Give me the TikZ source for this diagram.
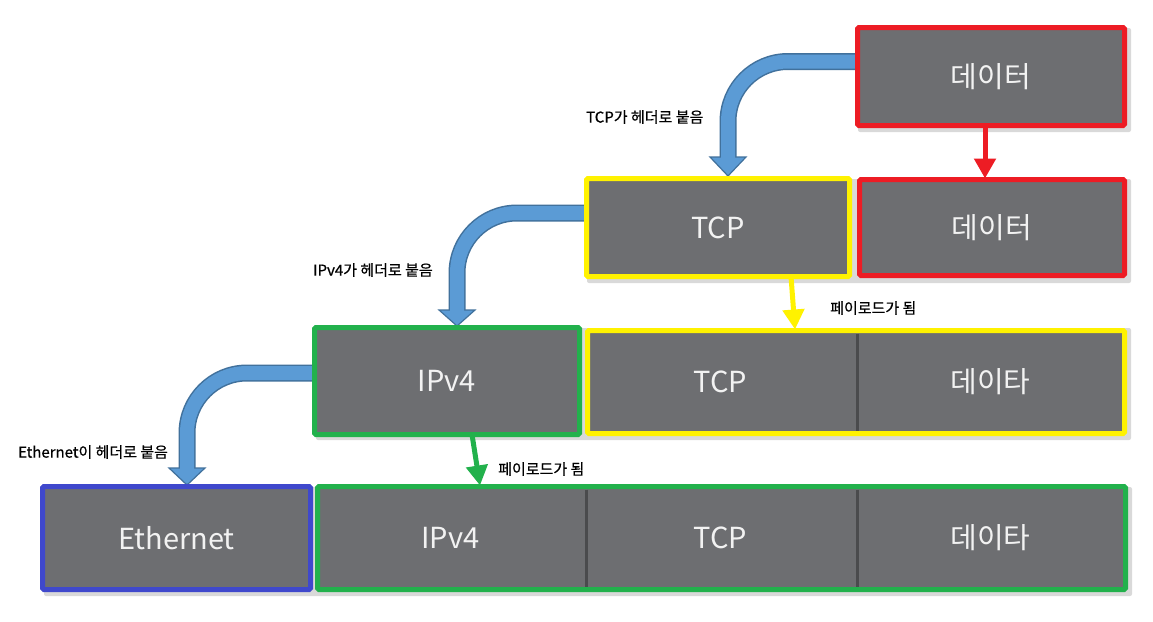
\documentclass[tikz,border=0pt]{standalone}
\usepackage{fontspec}
\setmainfont{Noto Sans CJK KR}
\newfontfamily\krfont{Noto Sans CJK KR}
\newfontfamily\lblfont[FakeBold=0.6]{Noto Sans CJK KR}
\usetikzlibrary{arrows.meta,calc}
\definecolor{boxgray}{HTML}{6D6E71}
\definecolor{boxtext}{HTML}{F2F2F2}
\definecolor{cred}{HTML}{ED1C24}
\definecolor{cyellow}{HTML}{FFF200}
\definecolor{cgreen}{HTML}{22B14C}
\definecolor{cblue}{HTML}{3F48CC}
\definecolor{arrfill}{HTML}{5B9BD5}
\definecolor{arrline}{HTML}{41719C}
\definecolor{divcol}{HTML}{4A4B4D}
\definecolor{shadowcol}{HTML}{D9D9D9}
\tikzset{
  box/.style={draw, line width=5pt, fill=boxgray, text=boxtext, inner sep=0pt, outer sep=0pt,
    anchor=north west, rounded corners=1.5pt, font=\krfont\fontsize{29}{34}\selectfont},
  seg/.style={text=boxtext, inner sep=0pt, font=\krfont\fontsize{29}{34}\selectfont},
  lbl/.style={text=black, inner sep=0pt, anchor=west, font=\lblfont\fontsize{15}{18}\selectfont},
  divider/.style={divcol, line width=3pt},
  shaftout/.style={arrline, line width=17pt, rounded corners=60pt},
  shaftin/.style={arrfill, line width=14pt, rounded corners=60pt},
  headtri/.style={fill=arrfill, draw=arrline, line width=1.2pt, line join=miter},
  payload/.style={line width=5pt, -{Triangle[width=21pt,length=20pt]}},
  shad/.style={fill=shadowcol, rounded corners=2pt}
}
\begin{document}
\begin{tikzpicture}[x=1pt,y=-1pt]
\fill[white] (0,0) rectangle (1153,621);
\useasboundingbox (0,0) rectangle (1153,621);

% coordinates for blue arrows
\coordinate (a1s) at (862,61.5);
\coordinate (a1c) at (728,61.5);
\coordinate (a1b) at (728,157);
\coordinate (a2s) at (590,213);
\coordinate (a2c) at (457,213);
\coordinate (a2b) at (457,310);
\coordinate (a3s) at (318,373);
\coordinate (a3c) at (187,373);
\coordinate (a3b) at (187,468);

% soft shadows behind boxes
\fill[shad] (858,28) rectangle (1131,132);
\fill[shad] (587,179) rectangle (1131,283);
\fill[shad] (316,328) rectangle (1131,440);
\fill[shad] (44,487) rectangle (1132,596);

% blue curved arrows (behind boxes)
\draw[shaftout] (a1s) -- (a1c) -- (a1b);
\draw[headtri] ($(a1b)+(-18,0)$) -- ($(a1b)+(18,0)$) -- ($(a1b)+(0,19)$) -- cycle;
\draw[shaftin] (a1s) -- (a1c) -- ($(a1b)+(0,1.5)$);

\draw[shaftout] (a2s) -- (a2c) -- (a2b);
\draw[headtri] ($(a2b)+(-18,0)$) -- ($(a2b)+(18,0)$) -- ($(a2b)+(0,16)$) -- cycle;
\draw[shaftin] (a2s) -- (a2c) -- ($(a2b)+(0,1.5)$);

\draw[shaftout] (a3s) -- (a3c) -- (a3b);
\draw[headtri] ($(a3b)+(-18,0)$) -- ($(a3b)+(18,0)$) -- ($(a3b)+(0,17)$) -- cycle;
\draw[shaftin] (a3s) -- (a3c) -- ($(a3b)+(0,1.5)$);

% row 1
\node[box, draw=cred, minimum width=267pt, minimum height=98pt] (d1) at (857.5,27.5) {데이터};
% row 2
\node[box, draw=cyellow, minimum width=263pt, minimum height=98pt] (tcp2) at (586.5,178.5) {TCP};
\node[box, draw=cred, minimum width=265pt, minimum height=96pt] (d2) at (859.5,179.5) {데이터};
% row 3
\node[box, draw=cgreen, minimum width=265pt, minimum height=107pt] (ip3) at (314.5,327.5) {IPv4};
\node[box, draw=cyellow, minimum width=537pt, minimum height=103pt] (y3) at (587.5,330.5) {};
\draw[divider] ($(y3.north west)+(270,3)$) -- ($(y3.south west)+(270,-3)$);
\node[seg] (y3tcp) at ($(y3.west)+(133,0)$) {TCP};
\node[seg] (y3dat) at ($(y3.west)+(403,0)$) {데이타};
% row 4
\node[box, draw=cblue, minimum width=268pt, minimum height=103pt] (eth) at (42.5,486.5) {Ethernet};
\node[box, draw=cgreen, minimum width=808pt, minimum height=103pt] (g4) at (317.5,486.5) {};
\draw[divider] ($(g4.north west)+(269,3)$) -- ($(g4.south west)+(269,-3)$);
\draw[divider] ($(g4.north west)+(540,3)$) -- ($(g4.south west)+(540,-3)$);
\node[seg] (g4ip) at ($(g4.west)+(133,0)$) {IPv4};
\node[seg] (g4tcp) at ($(g4.west)+(403,0)$) {TCP};
\node[seg] (g4dat) at ($(g4.west)+(673,0)$) {데이타};

% straight arrows
\draw[payload, cred] ($(d1.south west)+(127.5,0)$) -- ($(d2.north west)+(125.5,-1)$);
\draw[payload, cyellow] ($(tcp2.south west)+(204.5,0)$) -- ($(y3.north west)+(207.5,-1)$);
\draw[payload, cgreen] ($(ip3.south west)+(157.5,0)$) -- ($(g4.north west)+(162.5,-1)$);

% labels
\node[lbl] (l1) at (586,117) {TCP가 헤더로 붙음};
\node[lbl] (l2) at (313,270) {IPv4가 헤더로 붙음};
\node[lbl] (l3) at (18,452) {Ethernet이 헤더로 붙음};
\node[lbl] (l4) at (830,308) {페이로드가 됨};
\node[lbl] (l5) at (498,469) {페이로드가 됨};
\end{tikzpicture}
\end{document}
